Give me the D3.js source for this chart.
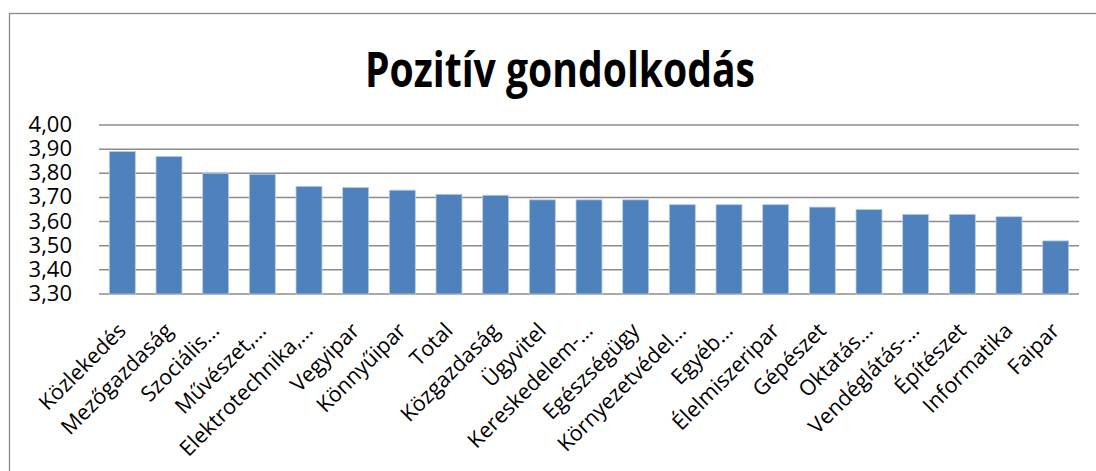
<!DOCTYPE html>
<html>
<head>
<meta charset="utf-8">
<script src="https://cdn.jsdelivr.net/npm/d3@7"></script>
<style>
  body { margin: 0; background: #fff; }
  text { font-family: "Open Sans", sans-serif; fill: #000; }
</style>
</head>
<body>
<svg width="1096" height="471"></svg>
<script>
var title = "Pozitív gondolkodás";

var categories = ["Közlekedés", "Mezőgazdaság", "Szociális…", "Művészet,…", "Elektrotechnika,…",
  "Vegyipar", "Könnyűipar", "Total", "Közgazdaság", "Ügyvitel", "Kereskedelem-…",
  "Egészségügy", "Környezetvédel…", "Egyéb…", "Élelmiszeripar", "Gépészet", "Oktatás…",
  "Vendéglátás-…", "Építészet", "Informatika", "Faipar"];

var values = [3.89, 3.87, 3.80, 3.796, 3.746, 3.741, 3.73, 3.713, 3.709, 3.69, 3.69,
  3.69, 3.67, 3.67, 3.67, 3.66, 3.65, 3.63, 3.63, 3.62, 3.52];

var yTicks = [3.30, 3.40, 3.50, 3.60, 3.70, 3.80, 3.90, 4.00];

var svg = d3.select("svg");

// chart frame (runs off the right and bottom edge)
svg.append("rect")
  .attr("x", 9.5).attr("y", 13.5)
  .attr("width", 1100).attr("height", 470)
  .attr("fill", "none")
  .attr("stroke", "#8a8a8a")
  .attr("stroke-width", 1.3);

var x = d3.scaleBand()
  .domain(categories)
  .range([99, 1079])
  .paddingInner(0.443)
  .paddingOuter(0.2215);

var y = d3.scaleLinear()
  .domain([3.30, 4.00])
  .range([294, 125]);

var fmt = function (d) { return d3.format(".2f")(d).replace(".", ","); };

// gridlines
svg.append("g").selectAll("line")
  .data(yTicks)
  .enter().append("line")
  .attr("x1", 99).attr("x2", 1079)
  .attr("y1", function (d) { return y(d); })
  .attr("y2", function (d) { return y(d); })
  .attr("stroke", "#8c8c8c")
  .attr("stroke-width", 1.5);

// y tick labels
svg.append("g").selectAll("text")
  .data(yTicks)
  .enter().append("text")
  .attr("x", 72)
  .attr("y", function (d) { return y(d) + 7; })
  .attr("text-anchor", "end")
  .style("font-size", "22px")
  .text(fmt);

// bars
svg.append("g").selectAll("rect")
  .data(values)
  .enter().append("rect")
  .attr("x", function (d, i) { return x(categories[i]); })
  .attr("y", function (d) { return y(d); })
  .attr("width", x.bandwidth())
  .attr("height", function (d) { return y(3.30) - y(d); })
  .attr("fill", "#4f81bd")
  .attr("stroke", "#b9cde5")
  .attr("stroke-width", 0.8);

// category labels, rotated
svg.append("g").selectAll("text")
  .data(categories)
  .enter().append("text")
  .attr("transform", function (d) {
    return "translate(" + (x(d) + x.bandwidth() / 2 + 5) + ",332) rotate(-45)";
  })
  .attr("text-anchor", "end")
  .style("font-size", "21.5px")
  .text(function (d) { return d; });

// title
svg.append("text")
  .attr("x", 560)
  .attr("y", 87)
  .attr("text-anchor", "middle")
  .attr("textLength", 390)
  .attr("lengthAdjust", "spacingAndGlyphs")
  .style("font-size", "49px")
  .style("font-weight", "bold")
  .text(title);
</script>
</body>
</html>
